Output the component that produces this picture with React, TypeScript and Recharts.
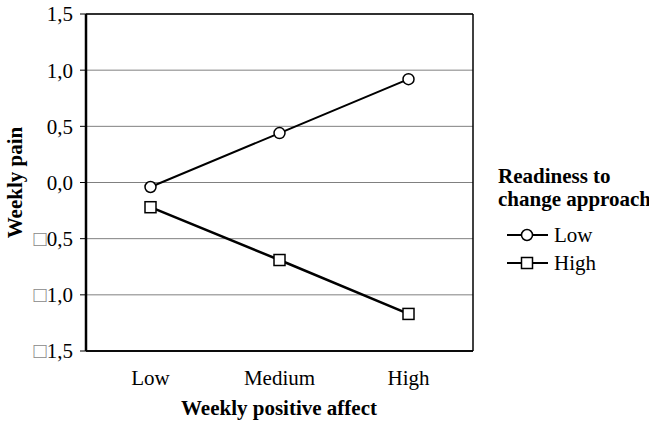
import React from 'react';
import { LineChart, Line, XAxis, YAxis, CartesianGrid } from 'recharts';

const categories = ['Low', 'Medium', 'High'];
const lowReadiness = [-0.04, 0.44, 0.92];
const highReadiness = [-0.22, -0.69, -1.17];
const yTicks = [-1.5, -1.0, -0.5, 0, 0.5, 1.0, 1.5];
const seriesNames = ['Low', 'High'];
const legendTitle = ['Readiness to', 'change approach'];
const xTitle = 'Weekly positive affect';
const yTitle = 'Weekly pain';

const data = categories.map((c, i) => ({ cat: c, low: lowReadiness[i], high: highReadiness[i] }));

const FONT = '"Liberation Serif", "Times New Roman", serif';

const fmt = (v: number) => Math.abs(v).toFixed(1).replace('.', ',');

const YTick = (props: any) => {
  const { x, y, payload } = props;
  const v = payload.value as number;
  return (
    <text x={x} y={y} dy="0.35em" textAnchor="end" fontFamily={FONT} fontSize={21} fill="#000">
      {v < 0 ? <tspan fill="#888" fontSize={22}>{'\u25A1'}</tspan> : null}
      <tspan>{fmt(v)}</tspan>
    </text>
  );
};

const CircleDot = (props: any) => {
  const { cx, cy, index } = props;
  return <circle key={`c${index}`} cx={cx} cy={cy} r={5.5} fill="#fff" stroke="#000" strokeWidth={1.5} />;
};

const SquareDot = (props: any) => {
  const { cx, cy, index } = props;
  return <rect key={`s${index}`} x={cx - 5.5} y={cy - 5.5} width={11} height={11} fill="#fff" stroke="#000" strokeWidth={1.5} />;
};

export default function App() {
  return (
    <div style={{ position: 'absolute', left: 0, top: 0, width: 649, height: 427, overflow: 'hidden', background: '#fff' }}>
      <LineChart width={649} height={427} data={data} margin={{ top: 14, right: 176, bottom: 0, left: 0 }}>
        <CartesianGrid vertical={false} stroke="#808080" strokeWidth={1} />
        <CartesianGrid
          stroke="#000"
          strokeWidth={1.5}
          horizontalCoordinatesGenerator={({ offset }: any) => [offset.top, offset.top + offset.height]}
          verticalCoordinatesGenerator={({ offset }: any) => [offset.left + offset.width]}
        />
        <XAxis
          dataKey="cat"
          scale="band"
          height={76}
          tickLine={false}
          axisLine={{ stroke: '#000', strokeWidth: 1.5 }}
          tickMargin={13}
          tick={{ fontFamily: FONT, fontSize: 21, fill: '#000' }}
          interval={0}
          label={{
            content: () => (
              <text x={279} y={408} dy="0.35em" textAnchor="middle" fontFamily={FONT} fontSize={21} fontWeight="bold" fill="#000">
                {xTitle}
              </text>
            ),
          }}
        />
        <YAxis
          width={86}
          domain={[-1.5, 1.5]}
          ticks={yTicks}
          interval={0}
          tick={<YTick />}
          tickSize={6}
          tickMargin={7}
          tickLine={{ stroke: '#000' }}
          axisLine={{ stroke: '#000', strokeWidth: 2.5 }}
          label={{
            content: () => (
              <text x={15} y={182.5} transform="rotate(-90 15 182.5)" dy="0.35em" textAnchor="middle" fontFamily={FONT} fontSize={21} fontWeight="bold" fill="#000">
                {yTitle}
              </text>
            ),
          }}
        />
        <Line dataKey="low" stroke="#000" strokeWidth={2} dot={CircleDot} activeDot={false} isAnimationActive={false} />
        <Line dataKey="high" stroke="#000" strokeWidth={2.5} dot={SquareDot} activeDot={false} isAnimationActive={false} />
      </LineChart>
      <div style={{ position: 'absolute', left: 498, top: 165, fontFamily: FONT, color: '#000', whiteSpace: 'nowrap' }}>
        {legendTitle.map((t) => (
          <div key={t} style={{ fontSize: 21, fontWeight: 'bold', lineHeight: '23px' }}>{t}</div>
        ))}
        <div style={{ height: 10 }} />
        {seriesNames.map((n, i) => (
          <div key={n} style={{ display: 'flex', alignItems: 'center', height: 28, fontSize: 21 }}>
            <svg width={56} height={20} style={{ display: 'block' }}>
              <line x1={9} y1={10} x2={50} y2={10} stroke="#000" strokeWidth={2} />
              {i === 0 ? (
                <circle cx={29} cy={10} r={5.5} fill="#fff" stroke="#000" strokeWidth={1.5} />
              ) : (
                <rect x={23.5} y={4.5} width={11} height={11} fill="#fff" stroke="#000" strokeWidth={1.5} />
              )}
            </svg>
            <span>{n}</span>
          </div>
        ))}
      </div>
    </div>
  );
}
